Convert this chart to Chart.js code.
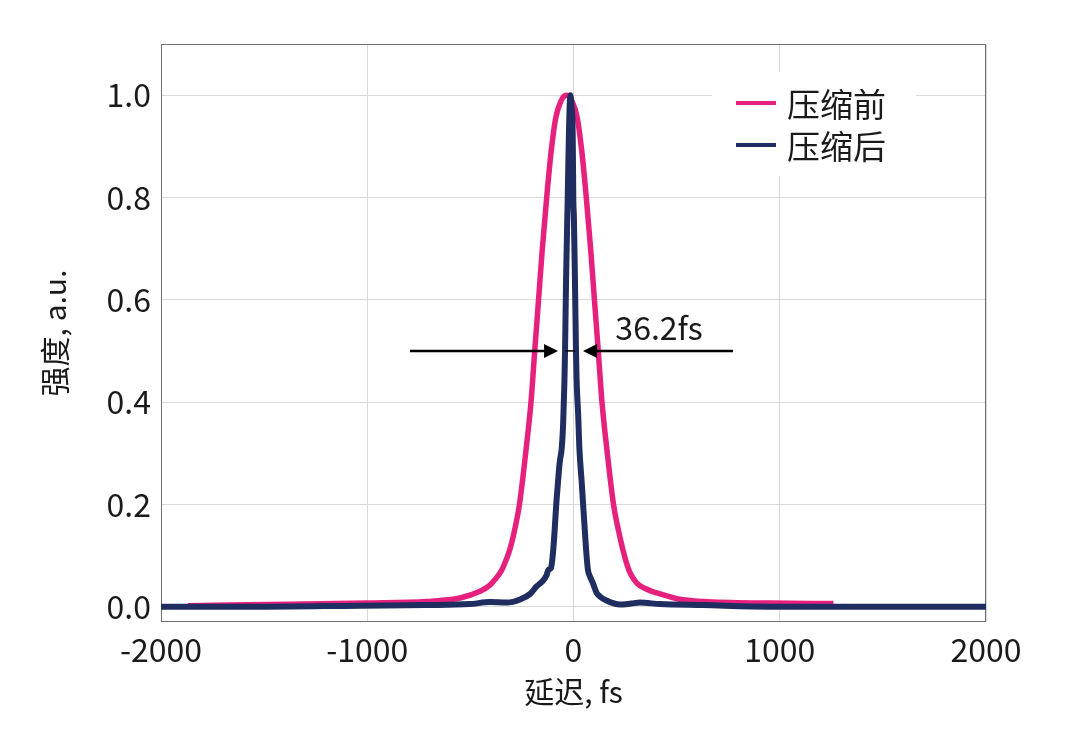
<!DOCTYPE html>
<html>
<head>
<meta charset="utf-8">
<title>压缩前后脉冲</title>
<script src="https://cdn.jsdelivr.net/npm/chart.js@4/dist/chart.umd.min.js"></script>
<style>
html, body { margin: 0; padding: 0; background: #fff; }
canvas { display: block; }
</style>
</head>
<body>
<canvas id="pulse" width="1080" height="751"></canvas>
<script>
// series (delay in fs, intensity in a.u.)
var seriesNames = ['压缩前', '压缩后'];
var seriesColors = ['#E6217D', '#1F2D60'];

var beforeX = [-1870, -1488, -1003, -712, -550, -453, -405, -381, -350, -333, -310, -292, -262, -230, -206, -188, -170, -152, -130, -108, -86, -59, -46, -34, -22, -9, 18, 40, 62, 84, 102, 120, 138, 162, 194, 224, 250, 270, 290, 310, 340, 380, 419, 508, 629, 953, 1260];
var beforeY = [0.002, 0.004, 0.007, 0.010, 0.017, 0.030, 0.042, 0.053, 0.070, 0.085, 0.110, 0.138, 0.200, 0.307, 0.400, 0.500, 0.597, 0.695, 0.800, 0.891, 0.956, 0.990, 0.998, 1.000, 0.998, 0.990, 0.956, 0.891, 0.800, 0.695, 0.597, 0.500, 0.400, 0.307, 0.200, 0.138, 0.095, 0.070, 0.055, 0.045, 0.037, 0.030, 0.025, 0.015, 0.010, 0.007, 0.006];

var afterX = [-2000, -1500, -1035, -712, -502, -405, -324, -259, -210, -178, -154, -130, -122, -110, -98, -82, -72, -66, -57, -50, -44, -41, -36, -28, -22, -15, -10, -4, -1, 2, 7, 12, 15, 23, 28, 40, 61, 70, 80, 95, 112, 128, 160, 225, 280, 322, 419, 628, 953, 2000];
var afterY = [0.000, 0.000, 0.002, 0.003, 0.005, 0.009, 0.008, 0.014, 0.025, 0.040, 0.048, 0.062, 0.072, 0.075, 0.112, 0.209, 0.260, 0.285, 0.310, 0.360, 0.440, 0.500, 0.640, 0.800, 0.930, 1.000, 0.980, 0.930, 0.800, 0.760, 0.640, 0.500, 0.444, 0.372, 0.314, 0.242, 0.112, 0.072, 0.059, 0.045, 0.027, 0.020, 0.012, 0.004, 0.006, 0.008, 0.005, 0.003, 0.000, 0.000];

var xTicks = [-2000, -1000, 0, 1000, 2000];
var yTicks = [0, 0.2, 0.4, 0.6, 0.8, 1.0];

// FWHM marker
var fwhmText = '36.2fs';
var fwhmLevel = 0.5;
var leftArrow = [-793, -75];
var rightArrow = [773, 46];
var gapMark = [-40, 8];
var textAt = [203, 0.546];

var FONT = "'Noto Sans CJK SC', 'Noto Sans', sans-serif";
Chart.defaults.font.family = FONT;
Chart.defaults.color = '#1a1a1a';

function toPoints(xs, ys) {
    return xs.map(function (x, i) { return { x: x, y: ys[i] }; });
}

function arrow(ctx, x0, x1, y) {
    var dir = x1 > x0 ? 1 : -1;
    ctx.beginPath();
    ctx.moveTo(x0, y);
    ctx.lineTo(x1 - dir * 10, y);
    ctx.stroke();
    ctx.beginPath();
    ctx.moveTo(x1, y);
    ctx.lineTo(x1 - dir * 14, y - 7);
    ctx.lineTo(x1 - dir * 14, y + 7);
    ctx.closePath();
    ctx.fill();
}

var extras = {
    id: 'extras',
    beforeDatasetsDraw: function (chart) {
        var a = chart.chartArea, ctx = chart.ctx;
        ctx.save();
        ctx.strokeStyle = '#707070';
        ctx.lineWidth = 1;
        ctx.strokeRect(Math.round(a.left) + 0.5, Math.round(a.top) + 0.5,
            Math.round(a.right - a.left) - 1, Math.round(a.bottom - a.top) - 1);

        // legend box sits inside the plot, over the grid
        var bx = a.right - 274, by = a.top + 28;
        ctx.fillStyle = '#fff';
        ctx.fillRect(bx, by, 204, 104);
        ctx.font = '33px ' + FONT;
        ctx.textBaseline = 'middle';
        ctx.textAlign = 'left';
        chart.data.datasets.forEach(function (ds, i) {
            var yy = by + 31 + i * 42;
            ctx.strokeStyle = ds.borderColor;
            ctx.lineWidth = 4;
            ctx.beginPath();
            ctx.moveTo(bx + 24, yy);
            ctx.lineTo(bx + 64, yy);
            ctx.stroke();
            ctx.fillStyle = '#1a1a1a';
            ctx.fillText(ds.label, bx + 75, yy + 1);
        });
        ctx.restore();
    },
    afterDatasetsDraw: function (chart) {
        var xs = chart.scales.x, ys = chart.scales.y, ctx = chart.ctx;
        var y = ys.getPixelForValue(fwhmLevel);
        ctx.save();
        ctx.strokeStyle = '#000';
        ctx.fillStyle = '#000';
        ctx.lineWidth = 2.5;
        arrow(ctx, xs.getPixelForValue(leftArrow[0]), xs.getPixelForValue(leftArrow[1]), y);
        arrow(ctx, xs.getPixelForValue(rightArrow[0]), xs.getPixelForValue(rightArrow[1]), y);
        ctx.lineWidth = 1.5;
        ctx.beginPath();
        ctx.moveTo(xs.getPixelForValue(gapMark[0]), y);
        ctx.lineTo(xs.getPixelForValue(gapMark[1]), y);
        ctx.stroke();
        ctx.font = '32px ' + FONT;
        ctx.textAlign = 'left';
        ctx.textBaseline = 'middle';
        ctx.fillStyle = '#1a1a1a';
        ctx.fillText(fwhmText, xs.getPixelForValue(textAt[0]), ys.getPixelForValue(textAt[1]));
        ctx.restore();
    }
};

var ctx = document.getElementById('pulse').getContext('2d');
var chart = new Chart(ctx, {
    type: 'line',
    data: {
        datasets: [{
            label: seriesNames[0],
            data: toPoints(beforeX, beforeY),
            borderColor: seriesColors[0],
            borderWidth: 5.5,
            pointRadius: 0,
            cubicInterpolationMode: 'monotone',
            fill: false,
            order: 1
        }, {
            label: seriesNames[1],
            data: toPoints(afterX, afterY),
            borderColor: seriesColors[1],
            borderWidth: 6,
            pointRadius: 0,
            cubicInterpolationMode: 'monotone',
            fill: false,
            order: 0
        }]
    },
    options: {
        responsive: false,
        animation: false,
        devicePixelRatio: 1,
        layout: { padding: { left: 0, top: 44, right: 94, bottom: 0 } },
        plugins: {
            legend: { display: false },
            tooltip: { enabled: false }
        },
        scales: {
            x: {
                type: 'linear',
                min: -2000,
                max: 2000,
                afterBuildTicks: function (s) {
                    s.ticks = xTicks.map(function (v) { return { value: v }; });
                },
                afterFit: function (s) { s.height = 129; },
                grid: { color: '#d9d9d9', drawTicks: false },
                border: { display: false },
                ticks: {
                    font: { size: 32 }, padding: 9, maxRotation: 0, color: '#1a1a1a',
                    callback: function (v) { return String(v); }
                },
                title: {
                    display: true, text: '延迟, fs', color: '#1a1a1a',
                    font: { size: 30 }, padding: { top: 0, bottom: 41 }
                }
            },
            y: {
                type: 'linear',
                min: -0.03,
                max: 1.1,
                afterBuildTicks: function (s) {
                    s.ticks = yTicks.map(function (v) { return { value: v }; });
                },
                afterFit: function (s) { s.width = 161; },
                grid: { color: '#d9d9d9', drawTicks: false },
                border: { display: false },
                ticks: {
                    font: { size: 32 }, padding: 10, color: '#1a1a1a',
                    callback: function (v) { return v.toFixed(1); }
                },
                title: {
                    display: true, text: '强度, a.u.', color: '#1a1a1a',
                    font: { size: 30 }, padding: { top: 37, bottom: 0 }
                }
            }
        }
    },
    plugins: [extras]
});
</script>
</body>
</html>
